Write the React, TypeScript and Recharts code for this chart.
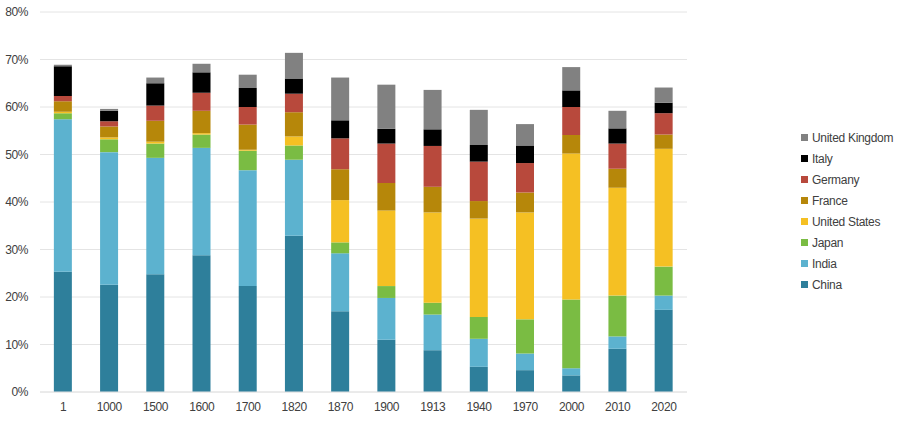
import React from 'react';
import { BarChart, Bar, XAxis, YAxis, CartesianGrid, Legend } from 'recharts';

const years = ['1', '1000', '1500', '1600', '1700', '1820', '1870', '1900', '1913', '1940', '1970', '2000', '2010', '2020'];
const china = [25.3, 22.6, 24.8, 28.8, 22.3, 32.9, 17.0, 11.0, 8.8, 5.3, 4.6, 3.5, 9.1, 17.3];
const india = [32.1, 27.9, 24.5, 22.6, 24.4, 16.0, 12.2, 8.8, 7.5, 5.9, 3.5, 1.5, 2.6, 3.0];
const japan = [1.3, 2.7, 3.0, 2.8, 4.1, 3.0, 2.3, 2.5, 2.5, 4.6, 7.2, 14.5, 8.6, 6.1];
const unitedStates = [0.3, 0.4, 0.4, 0.3, 0.2, 1.9, 8.9, 15.9, 19.0, 20.7, 22.5, 30.7, 22.7, 24.8];
const france = [2.2, 2.3, 4.4, 4.7, 5.3, 5.1, 6.5, 5.8, 5.4, 3.7, 4.2, 3.9, 4.0, 3.0];
const germany = [1.1, 1.1, 3.2, 3.8, 3.7, 3.9, 6.5, 8.3, 8.6, 8.3, 6.2, 5.9, 5.3, 4.5];
const italy = [6.3, 2.2, 4.7, 4.3, 4.0, 3.2, 3.8, 3.1, 3.5, 3.5, 3.7, 3.5, 3.2, 2.2];
const unitedKingdom = [0.3, 0.4, 1.2, 1.8, 2.8, 5.4, 9.0, 9.3, 8.3, 7.4, 4.5, 4.9, 3.7, 3.2];
const yTicks = [0, 10, 20, 30, 40, 50, 60, 70, 80];

const seriesDefs = [
  { key: 'China', values: china, color: '#2E7F9B' },
  { key: 'India', values: india, color: '#5CB2CF' },
  { key: 'Japan', values: japan, color: '#7ABC43' },
  { key: 'United States', values: unitedStates, color: '#F5C023' },
  { key: 'France', values: france, color: '#B6870A' },
  { key: 'Germany', values: germany, color: '#B8493C' },
  { key: 'Italy', values: italy, color: '#000000' },
  { key: 'United Kingdom', values: unitedKingdom, color: '#818181' },
];
const seriesOrder = seriesDefs.map((s) => s.key);

const data = years.map((year, i) => {
  const row: Record<string, string | number> = { year };
  seriesDefs.forEach((s) => {
    row[s.key] = s.values[i];
  });
  return row;
});

const FONT = '"Liberation Sans", Arial, sans-serif';

const LegendContent = (props: any) => {
  const payload = [...(props.payload || [])].sort(
    (a: any, b: any) => seriesOrder.indexOf(b.value) - seriesOrder.indexOf(a.value)
  );
  return (
    <div style={{ fontFamily: FONT }}>
      {payload.map((p: any) => (
        <div key={p.value} style={{ display: 'flex', alignItems: 'center', height: 21 }}>
          <span style={{ width: 7, height: 7, background: p.color, marginRight: 4, display: 'inline-block' }} />
          <span style={{ fontSize: 12, color: '#404040', letterSpacing: -0.3 }}>{p.value}</span>
        </div>
      ))}
    </div>
  );
};

export default function App() {
  return (
    <div style={{ position: 'absolute', left: 0, top: 0, width: 900, height: 422, background: '#fff' }}>
      <BarChart
        width={900}
        height={422}
        data={data}
        margin={{ top: 12, right: 114, left: 0, bottom: 0 }}
        barCategoryGap="30%"
      >
        <CartesianGrid vertical={false} stroke="#E4E4E4" />
        <XAxis
          dataKey="year"
          height={30}
          axisLine={{ stroke: '#E4E4E4' }}
          tickLine={false}
          tickMargin={4}
          tick={{ fontSize: 12, fill: '#404040', fontFamily: FONT, letterSpacing: -0.4 }}
          interval={0}
        />
        <YAxis
          width={40}
          domain={[0, 80]}
          ticks={yTicks}
          axisLine={false}
          tickLine={false}
          tickMargin={6}
          tickFormatter={(v: number) => `${v}%`}
          tick={{ fontSize: 12, fill: '#404040', fontFamily: FONT, letterSpacing: -0.4 }}
        />
        <Legend
          content={<LegendContent />}
          layout="vertical"
          align="right"
          verticalAlign="top"
          wrapperStyle={{ position: 'absolute', left: 801, top: 127, width: 99 }}
        />
        {seriesDefs.map((s) => (
          <Bar key={s.key} dataKey={s.key} stackId="a" fill={s.color} isAnimationActive={false} />
        ))}
      </BarChart>
    </div>
  );
}
